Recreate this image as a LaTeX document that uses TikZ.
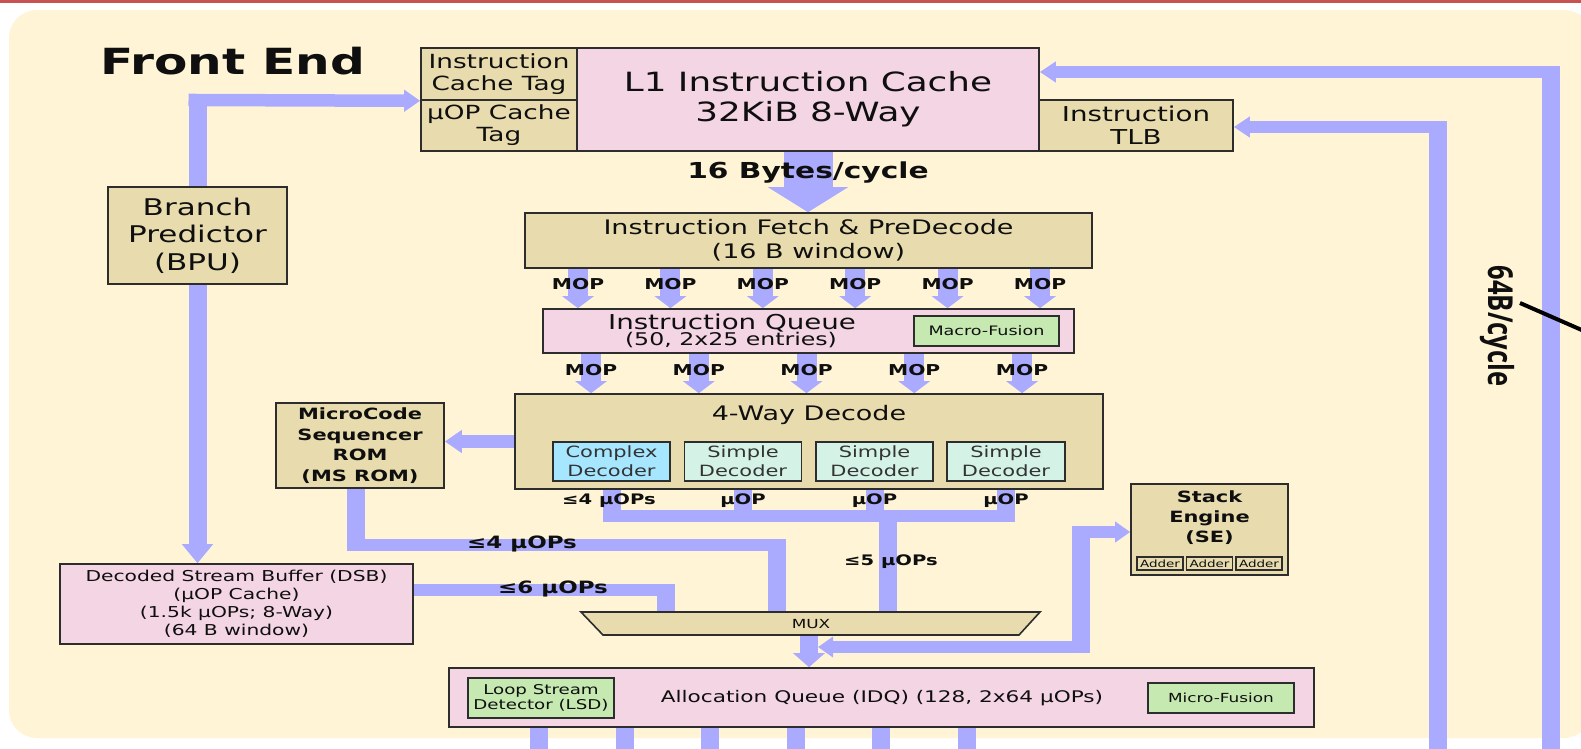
\documentclass[tikz,border=0pt]{standalone}
\usepackage{fontspec}
\setmainfont{DejaVu Sans}[FakeStretch=1.35]
\newfontfamily\rotfont{Open Sans}
\usetikzlibrary{arrows.meta}
\definecolor{busc}{RGB}{170,170,255}
\definecolor{tanc}{RGB}{232,220,174}
\definecolor{pinkc}{RGB}{244,213,227}
\definecolor{greenc}{RGB}{197,233,176}
\definecolor{cyanc}{RGB}{166,230,255}
\definecolor{mintc}{RGB}{212,242,230}
\definecolor{creamc}{RGB}{255,245,214}
\definecolor{redc}{RGB}{200,82,82}
\definecolor{edgec}{RGB}{45,45,45}
\definecolor{textc}{RGB}{15,15,15}
\newcommand\fsz[2]{\fontsize{#1}{#2}\selectfont}
\pgfdeclarelayer{bg}
\pgfdeclarelayer{bus}
\pgfsetlayers{bg,bus,main}
\begin{document}
\begin{tikzpicture}[x=1pt,y=-1pt,
  box/.style={draw=edgec, line width=1.6pt, inner sep=0pt, align=center, text=textc},
  tanbox/.style={box, fill=tanc},
  pinkbox/.style={box, fill=pinkc},
  greenbox/.style={box, fill=greenc},
  sz/.style 2 args={minimum width=#1pt, minimum height=#2pt},
  hbus/.style={draw=busc, line width=12.5pt},
  vbus/.style={draw=busc, line width=18pt},
  mop/.style={draw=busc, line width=20pt, -{Triangle[width=31pt,length=12pt]}},
  lbl/.style={anchor=base, inner sep=0pt, text=textc},
  htip/.style={-{Triangle[width=21pt,length=16pt]}},
]
\useasboundingbox (0,0) rectangle (1581,748);

% page, frame and title
\begin{pgfonlayer}{bg}
  \fill[white] (0,0) rectangle (1581,748);
  \fill[redc] (0,0) rectangle (1581,3);
  \fill[creamc, rounded corners=28pt] (9,10) rectangle (1592,738);
\end{pgfonlayer}
\node[lbl, anchor=base west, font=\bfseries\fsz{36}{40}] (title) at (100,74) {Front End};

% instruction cache row
\node[tanbox, sz={156}{52}, font=\fsz{19.5}{22}] (ict) at (499,74) {Instruction\\Cache Tag};
\node[tanbox, sz={156}{51}, font=\fsz{19.5}{22}] (uct) at (499,125.5) {µOP Cache\\Tag};
\node[pinkbox, sz={462}{103}, font=\fsz{26.5}{30}] (l1) at (808,99.5) {L1 Instruction Cache\\32KiB 8-Way};
\node[tanbox, sz={194}{51}, font=\fsz{20.5}{23}] (tlb) at (1136,125.5) {Instruction\\TLB};

% fetch, queue, decode
\node[tanbox, sz={567}{55}, font=\fsz{20}{24}] (fetch) at (808.5,240.5) {Instruction Fetch \& PreDecode\\(16 B window)};
\node[pinkbox, sz={531}{44}] (iq) at (808.5,331) {};
\node[lbl, font=\fsz{20.5}{22}] (iqa) at (732,329) {Instruction Queue};
\node[lbl, font=\fsz{17.5}{20}] (iqb) at (731,345) {(50, 2x25 entries)};
\node[greenbox, sz={145}{30}, font=\fsz{13}{15}] (macro) at (986.5,331) {Macro-Fusion};

\node[tanbox, sz={588}{95}] (dec) at (809,441.5) {};
\node[lbl, font=\fsz{20}{22}] (dect) at (809,420) {4-Way Decode};
\node[box, fill=cyanc, sz={117}{39}, font=\fsz{15.5}{19}, text=black!80] (cplx) at (611.5,461.5) {Complex\\Decoder};
\node[box, fill=mintc, sz={117}{39}, font=\fsz{15.5}{19}, text=black!80] (s1) at (743,461.5) {Simple\\Decoder};
\node[box, fill=mintc, sz={117}{39}, font=\fsz{15.5}{19}, text=black!80] (s2) at (874.5,461.5) {Simple\\Decoder};
\node[box, fill=mintc, sz={118}{39}, font=\fsz{15.5}{19}, text=black!80] (s3) at (1006,461.5) {Simple\\Decoder};

% side blocks
\node[tanbox, sz={179}{97}, font=\fsz{23}{27.5}] (bpu) at (197.5,235.5) {Branch\\Predictor\\(BPU)};
\node[tanbox, sz={168}{85}, font=\bfseries\fsz{15.5}{20.5}] (msrom) at (360,445.5) {MicroCode\\Sequencer\\ROM\\(MS ROM)};
\node[pinkbox, sz={353}{80}, font=\fsz{15}{18}] (dsb) at (236.5,604) {Decoded Stream Buffer (DSB)\\(µOP Cache)\\(1.5k µOPs; 8-Way)\\(64 B window)};
\node[tanbox, sz={157}{91}] (se) at (1209.5,529.5) {};
\node[lbl, anchor=center, align=center, font=\bfseries\fsz{15.5}{20}] (set) at (1209.5,518) {Stack\\Engine\\(SE)};
\node[tanbox, sz={46}{13}, line width=1.2pt, font=\fsz{10}{10}] (ad1) at (1160,563.5) {Adder};
\node[tanbox, sz={46}{13}, line width=1.2pt, font=\fsz{10}{10}] (ad2) at (1209.5,563.5) {Adder};
\node[tanbox, sz={46}{13}, line width=1.2pt, font=\fsz{10}{10}] (ad3) at (1259,563.5) {Adder};

% multiplexer
\coordinate (muxNW) at (581,612);
\coordinate (muxNE) at (1040,612);
\coordinate (muxSE) at (1019,635);
\coordinate (muxSW) at (603,635);
\draw[draw=edgec, line width=1.6pt, fill=tanc] (muxNW) -- (muxNE) -- (muxSE) -- (muxSW) -- cycle;
\node[lbl, anchor=center, font=\fsz{12.5}{14}] (mux) at (811,624) {MUX};

% allocation queue
\node[pinkbox, sz={865}{59}] (idq) at (881.5,697.5) {};
\node[lbl, font=\fsz{16}{18}] (idqt) at (882,702) {Allocation Queue (IDQ) (128, 2x64 µOPs)};
\node[greenbox, sz={146}{40}, font=\fsz{13.5}{14.5}] (lsd) at (541,698) {Loop Stream\\Detector (LSD)};
\node[greenbox, sz={146}{30}, font=\fsz{12.5}{14}] (mfus) at (1221,698) {Micro-Fusion};

% corner and end points of the buses
\coordinate (bpuT) at (197.5,100);
\coordinate (lbC) at (1551,72);
\coordinate (lbB) at (1551,752);
\coordinate (tbC) at (1438,127);
\coordinate (tbB) at (1438,752);
\coordinate (col) at (888,516);
\coordinate (mr1) at (356,545);
\coordinate (mr2) at (777,545);
\coordinate (ds1) at (666,590);
\coordinate (muxS) at (809,635);
\coordinate (se1) at (818,647);
\coordinate (se2) at (1081,647);
\coordinate (se3) at (1081,532);

\begin{pgfonlayer}{bus}
  % branch predictor
  \draw[vbus, shorten >=-6.25pt] (bpu.north) -- (bpuT);
  \draw[hbus, shorten <=-9pt, htip] (bpuT) -- (ict.south west);
  \draw[vbus, -{Triangle[width=30pt,length=19pt]}] (bpu.south) -- (bpu.south |- dsb.north);
  % fills from the memory side
  \draw[vbus, shorten >=-6.25pt] (lbB) -- (lbC);
  \draw[hbus, shorten <=-9pt, -{Triangle[width=20pt,length=16pt]}] (lbC) -- (l1.east |- lbC);
  \draw[vbus, shorten >=-6.25pt] (tbB) -- (tbC);
  \draw[hbus, shorten <=-9pt, -{Triangle[width=20pt,length=16pt]}] (tbC) -- (tlb.east |- tbC);
  % 16 bytes per cycle into fetch
  \draw[draw=busc, line width=49pt, -{Triangle[width=79pt,length=25pt]}] (l1.south) -- (l1.south |- fetch.north);
  % macro-ops
  \foreach \i/\x in {1/578,2/670.4,3/762.8,4/855.2,5/947.6,6/1040}{
    \coordinate (tA\i) at (\x,0);
    \draw[mop] (tA\i |- fetch.south) -- (tA\i |- iq.north);
  }
  \foreach \i/\x in {1/591,2/698.8,3/806.5,4/914.2,5/1022}{
    \coordinate (tB\i) at (\x,0);
    \draw[mop] (tB\i |- iq.south) -- (tB\i |- dec.north);
  }
  % decode to microcode sequencer
  \draw[hbus, -{Triangle[width=22pt,length=17pt]}] (dec.west) -- (dec.west -| msrom.east);
  % decoder outputs
  \foreach \d in {cplx,s1,s2,s3}{
    \draw[vbus, shorten >=-6.25pt] (\d |- dec.south) -- (\d |- col);
  }
  \draw[hbus, shorten <=-9pt, shorten >=-9pt] (cplx |- col) -- (s3 |- col);
  \draw[vbus, shorten <=-6.25pt] (col) -- (col |- muxNW);
  % microcode sequencer to mux
  \draw[vbus, shorten >=-6.25pt] (mr1 |- msrom.south) -- (mr1);
  \draw[hbus, shorten <=-9pt, shorten >=-9pt] (mr1) -- (mr2);
  \draw[vbus, shorten <=-6.25pt] (mr2) -- (mr2 |- muxNW);
  % stream buffer to mux
  \draw[hbus, shorten >=-9pt] (dsb.east |- ds1) -- (ds1);
  \draw[vbus, shorten <=-6.25pt] (ds1) -- (ds1 |- muxNW);
  % mux to allocation queue
  \draw[vbus, -{Triangle[width=31pt,length=14pt]}] (muxS) -- (muxS |- idq.north);
  % stack engine
  \draw[hbus, shorten >=-9pt, {Triangle[width=20pt,length=15pt]}-] (se1) -- (se2);
  \draw[vbus, shorten <=-6.25pt, shorten >=-6.25pt] (se2) -- (se3);
  \draw[hbus, shorten <=-9pt, -{Triangle[width=20pt,length=15pt]}] (se3) -- (se.west |- se3);
  % allocation queue outputs
  \foreach \i/\x in {0/539,1/624.6,2/710.2,3/795.8,4/881.4,5/967}{
    \coordinate (qo\i) at (\x,752);
    \draw[vbus] (qo\i |- idq.south) -- (qo\i);
  }
\end{pgfonlayer}

% bus labels
\node[lbl, font=\bfseries\fsz{22}{24}] (bw16) at (808,178) {16 Bytes/cycle};
\foreach \i in {1,...,6}{
  \node[lbl, font=\bfseries\fsz{15}{16}] (mopA\i) at (tA\i |- 0,289) {MOP};
}
\foreach \i in {1,...,5}{
  \node[lbl, font=\bfseries\fsz{15}{16}] (mopB\i) at (tB\i |- 0,375) {MOP};
}
\node[lbl, font=\bfseries\fsz{14.5}{16}] (o1) at (609,504) {≤4 µOPs};
\node[lbl, font=\bfseries\fsz{14.5}{16}] (o2) at (743,504) {µOP};
\node[lbl, font=\bfseries\fsz{14.5}{16}] (o3) at (874.5,504) {µOP};
\node[lbl, font=\bfseries\fsz{14.5}{16}] (o4) at (1006,504) {µOP};
\node[lbl, font=\bfseries\fsz{17}{19}] (msl) at (522,548) {≤4 µOPs};
\node[lbl, font=\bfseries\fsz{17}{19}] (dsl) at (553,593) {≤6 µOPs};
\node[lbl, font=\bfseries\fsz{14.5}{16}] (dcl) at (891,565) {≤5 µOPs};

% 64 bytes per cycle
\node[rotate=-90, inner sep=0pt, text=textc] (bw64) at (1497,326) {\scalebox{1}[1.35]{\rotfont\bfseries\fsz{25.5}{28}64B/cycle}};
\coordinate (slA) at (1520,303);
\coordinate (slB) at (1600,338);
\draw[line width=4pt, black] (slA) -- (slB);
\end{tikzpicture}
\end{document}
